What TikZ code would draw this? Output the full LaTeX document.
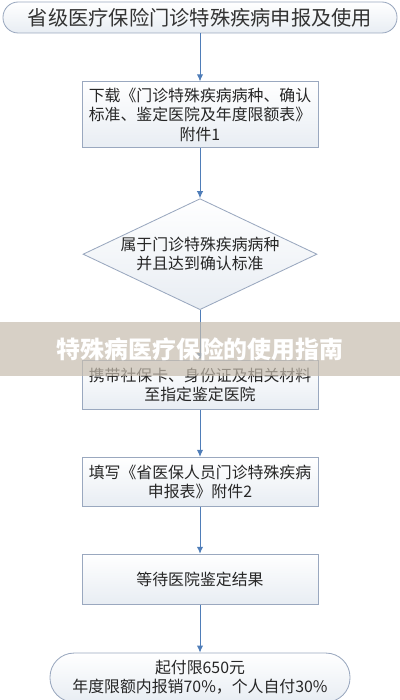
\documentclass[tikz,border=0pt]{standalone}
\usepackage{fontspec}
\usepackage{xcolor}
\usetikzlibrary{shapes.geometric,arrows.meta,positioning}
\newfontfamily\cjk{Noto Sans CJK SC}
\definecolor{boxline}{HTML}{9AA8BF}
\definecolor{boxfill}{HTML}{E8EDF3}
\definecolor{arrowblue}{HTML}{4F7DB8}
\definecolor{bannerbg}{HTML}{C6BCAE}

\begin{document}
\begin{tikzpicture}[
    every node/.style={font=\cjk\fontsize{11.3}{13.6}\selectfont, align=center, text=black!85},
    stepbox/.style={draw=boxline, line width=0.6pt, top color=white, bottom color=boxfill, minimum width=5.9cm, inner sep=0pt},
    endbox/.style={stepbox, rounded corners=0.6cm},
    decision/.style={diamond, stepbox, shape aspect=2.1, minimum width=5.85cm, minimum height=2.775cm},
    link/.style={draw=arrowblue, line width=0.7pt, -{Latex[length=5pt,width=4.5pt]}},
]
\useasboundingbox (0,0) rectangle (10,-17.5);

% flow
\node[endbox, minimum width=9.85cm, minimum height=0.775cm, rounded corners=0.38cm,
      font=\cjk\fontsize{14.4}{16}\selectfont, text=black!80] (apply) at (5,-0.4375) {省级医疗保险门诊特殊疾病申报及使用};
\node[stepbox, minimum height=1.65cm, below=1.2cm of apply] (download) {下载《门诊特殊疾病病种、确认\\标准、鉴定医院及年度限额表》\\附件1};
\node[decision, below=1.25cm of download] (check) {属于门诊特殊疾病病种\\并且达到确认标准};
\node[stepbox, minimum height=1.225cm, below=1.25cm of check] (visit) {携带社保卡、身份证及相关材料\\至指定鉴定医院};
\node[stepbox, minimum height=1.225cm, below=1.175cm of visit] (fillform) {填写《省医保人员门诊特殊疾病\\申报表》附件2};
\node[stepbox, minimum height=1.25cm, below=1.175cm of fillform] (wait) {等待医院鉴定结果};
\node[endbox, minimum width=7.5cm, minimum height=1.225cm, below=1.2cm of wait] (pay) {起付限650元\\年度限额内报销70\%，个人自付30\%};

\foreach \a/\b in {apply/download, download/check, check/visit, visit/fillform, fillform/wait, wait/pay}
    \draw[link] (\a) -- (\b);

% banner
\node[fill=bannerbg, fill opacity=0.7, text opacity=1, minimum width=10cm, minimum height=1.35cm, inner sep=0pt,
      text=white, font=\cjk\bfseries\fontsize{17}{20}\selectfont] (banner) at (5,-8.725) {特殊病医疗保险的使用指南};
\end{tikzpicture}
\end{document}
